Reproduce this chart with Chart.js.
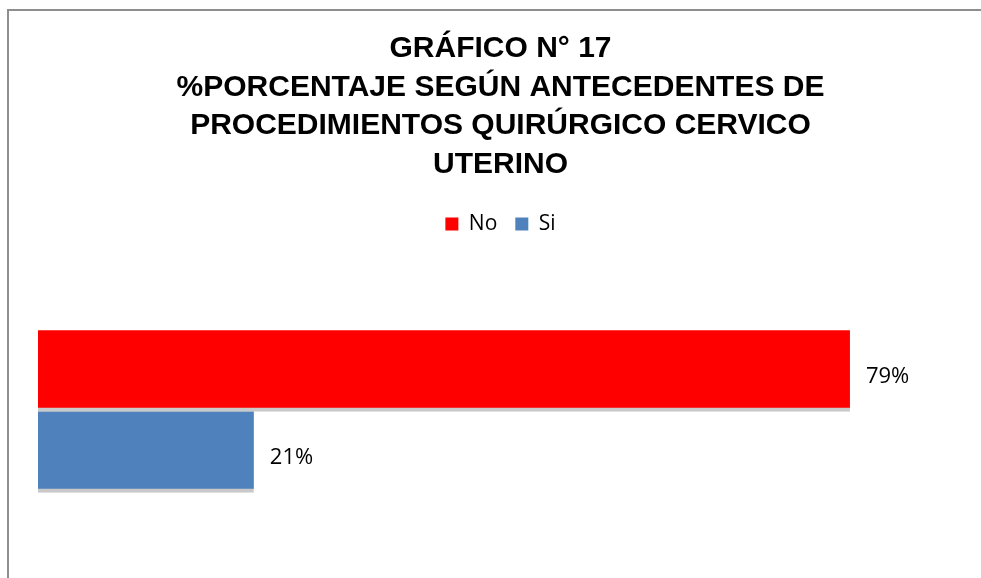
<!DOCTYPE html>
<html>
<head>
<meta charset="utf-8">
<script src="https://cdn.jsdelivr.net/npm/chart.js@4.4.1/dist/chart.umd.min.js"></script>
<style>
	html, body { margin: 0; padding: 0; background: #fff; overflow: hidden; }
	#wrap { position: relative; width: 981px; height: 578px; }
	#frame {
		position: absolute; left: 7px; top: 9px; width: 1200px; height: 800px;
		border-left: 2px solid #8e8e8e; border-top: 2px solid #8e8e8e;
		pointer-events: none;
	}
</style>
</head>
<body>
<div id="wrap">
	<canvas id="chart" width="981" height="578"></canvas>
	<div id="frame"></div>
</div>
<script>
// Chart data
const titleLines = [
	'GRÁFICO N° 17',
	'%PORCENTAJE SEGÚN ANTECEDENTES DE',
	'PROCEDIMIENTOS QUIRÚRGICO CERVICO',
	'UTERINO',
];
const categories = [ '' ];
const noValues = [ 79 ];
const siValues = [ 21 ];

// Draws "79%" style labels to the right of each bar
const valueLabels = {
	id: 'valueLabels',
	afterDatasetsDraw( chart ) {
		const ctx = chart.ctx;
		ctx.save();
		ctx.font = '22px "Open Sans", sans-serif';
		ctx.fillStyle = '#000';
		ctx.textAlign = 'left';
		ctx.textBaseline = 'middle';
		chart.data.datasets.forEach( ( ds, i ) => {
			chart.getDatasetMeta( i ).data.forEach( ( bar, j ) => {
				ctx.fillText( ds.data[ j ] + '%', bar.x + 16, bar.y + 6 );
			} );
		} );
		ctx.restore();
	},
};

const ctx = document.getElementById( 'chart' ).getContext( '2d' );

new Chart( ctx, {
	type: 'bar',
	data: {
		labels: categories,
		datasets: [
			{
				label: 'No',
				data: noValues,
				backgroundColor: '#ff0000',
				borderColor: '#c9c9c9',
				borderWidth: { top: 0, right: 0, bottom: 4, left: 0 },
				borderSkipped: false,
				barThickness: 81,
			},
			{
				label: 'Si',
				data: siValues,
				backgroundColor: '#4f81bd',
				borderColor: '#c9c9c9',
				borderWidth: { top: 0, right: 0, bottom: 4, left: 0 },
				borderSkipped: false,
				barThickness: 81,
			},
		],
	},
	options: {
		indexAxis: 'y',
		responsive: false,
		animation: false,
		layout: {
			padding: { left: 38, right: 18, top: 0, bottom: 0 },
		},
		plugins: {
			title: {
				display: true,
				text: titleLines,
				color: '#000',
				font: {
					family: '"Liberation Sans", Arial, sans-serif',
					size: 30,
					weight: 'bold',
					lineHeight: 1.28,
				},
				padding: { top: 30, bottom: 12 },
			},
			legend: {
				display: true,
				position: 'top',
				labels: {
					color: '#000',
					font: { family: '"Open Sans", sans-serif', size: 21 },
					boxWidth: 13,
					boxHeight: 13,
					padding: 18,
					generateLabels( chart ) {
						const items = Chart.defaults.plugins.legend.labels.generateLabels( chart );
						items.forEach( ( item ) => {
							item.lineWidth = 0;
						} );
						return items;
					},
				},
			},
			tooltip: { enabled: false },
		},
		scales: {
			x: {
				display: false,
				min: 0,
				max: 90,
			},
			y: {
				display: false,
			},
		},
	},
	plugins: [ valueLabels ],
} );
</script>
</body>
</html>
